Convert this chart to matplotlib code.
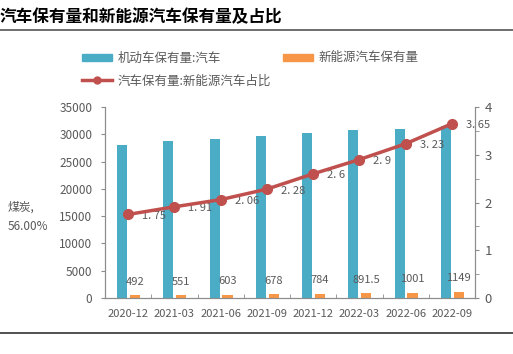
import numpy as np
import matplotlib.pyplot as plt
from matplotlib.lines import Line2D
from matplotlib.patches import Patch

plt.rcParams['font.family'] = ['Noto Sans CJK SC', 'DejaVu Sans']

categories = ['2020-12', '2021-03', '2021-06', '2021-09',
              '2021-12', '2022-03', '2022-06', '2022-09']
cars = [28100, 28700, 29200, 29700, 30200, 30700, 31000, 31500]
nev = [492, 551, 603, 678, 784, 891.5, 1001, 1149]
nev_share = [1.75, 1.91, 2.06, 2.28, 2.6, 2.9, 3.23, 3.65]
nev_labels = ['492', '551', '603', '678', '784', '891.5', '1001', '1149']

blue = '#4BACC6'
orange = '#F79646'
red = '#C0504D'
grey = '#595959'
axis_grey = '#8C8C8C'

fig = plt.figure(figsize=(5.13, 3.54), dpi=100)
ax = fig.add_axes([105 / 513, 1 - 298 / 354, 370 / 513, 191 / 354])
ax2 = ax.twinx()

x = np.arange(len(categories))
w = 0.22
ax.bar(x - 0.13, cars, width=w, color=blue, zorder=2)
ax.bar(x + 0.15, nev, width=w, color=orange, zorder=2)
for xi, v, s in zip(x, nev, nev_labels):
    ax.annotate(s, (xi + 0.15, v), xytext=(0, 6), textcoords='offset points',
                ha='center', va='bottom', fontsize=8, color=grey)

ax.set_xlim(-0.5, len(categories) - 0.5)
ax.set_ylim(0, 35000)
ax.set_yticks(range(0, 35001, 5000))
ax.set_xticks(x)
ax.set_xticklabels(categories)
ax.set_xticks(np.arange(-0.5, len(categories)), minor=True)
ax.tick_params(axis='x', which='major', length=0, pad=8, labelsize=8, labelcolor=grey)
ax.tick_params(axis='x', which='minor', direction='in', length=3, color=axis_grey)
ax.tick_params(axis='y', length=3, color=axis_grey, labelsize=8.5, labelcolor=grey, pad=6)

ax2.plot(x, nev_share, color=red, lw=2.5, marker='o', ms=7, zorder=5)
for xi, v in zip(x, nev_share):
    ax2.annotate(f'{v:g}'.replace('.', '. '), (xi, v), xytext=(10, -1),
                 textcoords='offset points', ha='left', va='center',
                 fontsize=8, color=grey)
ax2.set_ylim(0, 4)
ax2.set_yticks([0, 1, 2, 3, 4])
ax2.set_yticks(np.arange(0.5, 4, 1), minor=True)
ax2.tick_params(axis='y', which='both', length=3, color=axis_grey,
                labelsize=9.5, labelcolor=grey, pad=4)

for a in (ax, ax2):
    a.spines['top'].set_visible(False)
    for side in ('left', 'right', 'bottom'):
        a.spines[side].set_color(axis_grey)
ax.set_zorder(ax2.get_zorder() - 1)
ax.patch.set_visible(True)
ax2.patch.set_visible(False)

handles = [Patch(color=blue), Patch(color=orange),
           Line2D([0], [0], color=red, lw=2.5, marker='o', ms=5)]
fig.legend(handles[:2], ['机动车保有量:汽车', '新能源汽车保有量'],
           loc='center left', bbox_to_anchor=(71 / 513, 1 - 58 / 354), ncol=2,
           frameon=False, fontsize=9, handlelength=2.4, handleheight=0.5,
           columnspacing=5.0, handletextpad=0.4, labelcolor=grey)
fig.legend(handles[2:], ['汽车保有量:新能源汽车占比'],
           loc='center left', bbox_to_anchor=(71 / 513, 1 - 81 / 354),
           frameon=False, fontsize=9, handlelength=2.4,
           handletextpad=0.4, labelcolor=grey)

fig.text(0, 1 - 17 / 354, '汽车保有量和新能源汽车保有量及占比',
         fontsize=12, fontweight='bold', va='center', ha='left')
fig.add_artist(Line2D([0, 1], [1 - 30 / 354] * 2, color='#555555', lw=1.2))
fig.add_artist(Line2D([0, 1], [1 - 333 / 354] * 2, color='#333333', lw=1.2))
fig.text(8 / 513, 1 - 217 / 354, '煤炭,\n56.00%', fontsize=8.5, color=grey,
         va='center', ha='left', linespacing=1.6)

fig.savefig('out.png', dpi=100)
